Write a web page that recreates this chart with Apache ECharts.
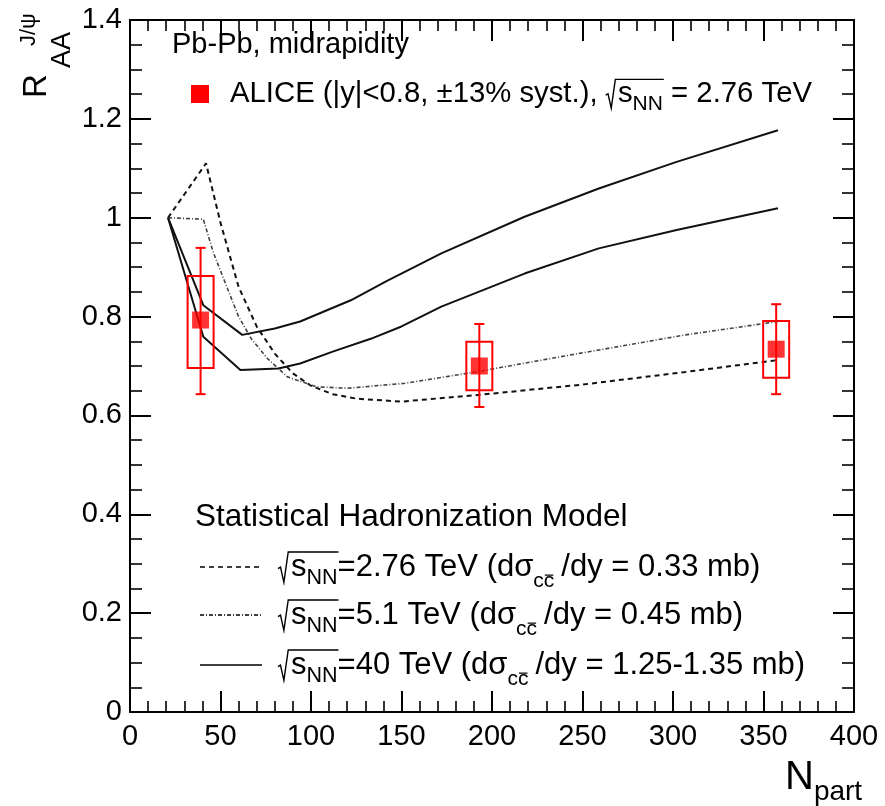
<!DOCTYPE html>
<html><head><meta charset="utf-8">
<script src="https://cdn.jsdelivr.net/npm/echarts@6/dist/echarts.min.js"></script>
<style>html,body{margin:0;padding:0;background:#fff}#c{width:885px;height:806px}</style>
</head><body><div id="c"></div><script>
// ---- data ----
const nPart276 = [21, 42, 50, 60, 70, 80, 90, 100, 112, 125, 150, 191, 249, 307, 358];
const rAA276   = [1.0, 1.11, 0.99, 0.86, 0.78, 0.725, 0.685, 0.66, 0.643, 0.634, 0.628, 0.641, 0.662, 0.688, 0.712];
const nPart51  = [21, 40.5, 46, 52, 60, 67, 76, 87, 103, 120, 152, 191, 249, 307, 358];
const rAA51    = [1.0, 0.997, 0.93, 0.874, 0.80, 0.755, 0.715, 0.678, 0.658, 0.655, 0.665, 0.688, 0.726, 0.763, 0.790];
const nPart40a = [21, 40.5, 62, 80, 94, 122, 142, 172, 218, 259, 302, 358];
const rAA40a   = [1.0, 0.823, 0.763, 0.776, 0.79, 0.833, 0.872, 0.928, 1.002, 1.059, 1.113, 1.177];
const nPart40b = [21, 40.5, 61, 82, 94, 112, 133, 150, 172, 218, 259, 302, 358];
const rAA40b   = [1.0, 0.759, 0.692, 0.695, 0.705, 0.729, 0.755, 0.78, 0.82, 0.887, 0.938, 0.975, 1.019];

const aliceNpart  = [39, 193, 357];
const aliceR      = [0.793, 0.700, 0.734];
const aliceStatLo = [0.643, 0.617, 0.643];
const aliceStatHi = [0.939, 0.785, 0.825];
const aliceSysLo  = [0.696, 0.651, 0.676];
const aliceSysHi  = [0.882, 0.749, 0.791];

const xTickLabels = ['0','50','100','150','200','250','300','350','400'];
const yTickLabels = ['0','0.2','0.4','0.6','0.8','1','1.2','1.4'];

// ---- helpers ----
const FONT = '"Liberation Sans", Arial, Helvetica, sans-serif';
const mctx = document.createElement('canvas').getContext('2d');
function tw(t, s){ mctx.font = s + 'px ' + FONT; return mctx.measureText(t).width; }
function layout(parts){
  let x = 0;
  return parts.map(p => {
    if (p.at !== undefined) x = p.at;
    x += (p.gap || 0);
    const w = p.sqrt ? 0.42 * p.s : tw(p.t, p.s);
    const r = Object.assign({}, p, {x: x, w: w});
    x += w;
    return r;
  });
}
function mathEls(x0, b, parts, color){
  color = color || '#000';
  const L = layout(parts); const els = [];
  L.forEach((p, i) => {
    if (p.sqrt){
      const s = p.s, last = L[i + p.n], end = last.x + last.w;
      const top = b - 0.84 * s;
      els.push({type:'polyline', silent:true,
        shape:{points:[[x0+p.x, b-0.30*s],[x0+p.x+0.08*s, b-0.35*s],[x0+p.x+0.19*s, b+0.14*s],[x0+p.x+0.33*s, top],[x0+end+0.03*s, top]]},
        style:{stroke:color, lineWidth:1.4, fill:null}});
    } else {
      const by = b + (p.dy || 0);
      els.push({type:'text', silent:true, x:x0+p.x, y:by - 0.35*p.s,
        style:{text:p.t, font:p.s + 'px ' + FONT, fill:color, align:'left', verticalAlign:'middle'}});
      if (p.ol){
        const ox = x0 + p.x + (p.olOff ? tw(p.olOff, p.s) : 0);
        const ow = tw(p.olText || p.t, p.s);
        const oy = by - 0.66 * p.s;
        els.push({type:'line', silent:true, shape:{x1:ox+1, y1:oy, x2:ox+ow-1, y2:oy}, style:{stroke:color, lineWidth:1.2}});
      }
    }
  });
  return els;
}
const zip = (a, b) => a.map((v, i) => [v, b[i]]);

// ---- chart ----
const chart = echarts.init(document.getElementById('c'), null, {renderer:'canvas'});
const axisLine = {show:true, onZero:false, lineStyle:{color:'#000', width:2}};
const axisTick = {show:true, inside:true, length:21, lineStyle:{color:'#000', width:2}};
const lblStyle = {fontSize:29, fontFamily:FONT, color:'#000'};

const graphics = [];
// top legend
graphics.push(...mathEls(172, 55, [{t:'Pb-Pb, midrapidity', s:29}]));
graphics.push({type:'rect', silent:true, shape:{x:191, y:85, width:18, height:18}, style:{fill:'#ff0000'}});
graphics.push(...mathEls(230, 104, [
  {t:'ALICE (|y|<0.8, \u00b113% syst.), ', s:29.3},
  {sqrt:true, s:29.3, n:2},
  {t:'s', s:29.3},
  {t:'NN', s:21, dy:8},
  {t:' = 2.76 TeV', s:29.3}
]));
// model legend
graphics.push(...mathEls(195, 528, [{t:'Statistical Hadronization Model', s:31.5}]));
const rowDefs = [
  {y:578, dash:[5,4], energy:'=2.76 TeV (d', tail:'/dy = 0.33 mb)'},
  {y:626, dash:[4,2,1,2], energy:'=5.1 TeV (d', tail:'/dy = 0.45 mb)'},
  {y:676, dash:null, energy:'=40 TeV (d', tail:'/dy = 1.25-1.35 mb)'}
];
rowDefs.forEach(r => {
  graphics.push({type:'line', silent:true, shape:{x1:200, y1:r.y-11, x2:262, y2:r.y-11},
    style:{stroke:'#000', lineWidth:1.5, lineDash:r.dash || null}});
  graphics.push(...mathEls(278, r.y, [
    {sqrt:true, s:31, n:2},
    {t:'s', s:31},
    {t:'NN', s:21.5, dy:8},
    {t:r.energy, s:31},
    {t:'\u03c3', s:31},
    {t:'cc', s:21, dy:11, ol:true, olOff:'c', olText:'c'},
    {t:r.tail, s:31, gap:7}
  ]));
});
// axis titles
graphics.push({type:'group', x:48, y:98, rotation:Math.PI/2, silent:true,
  children: mathEls(0, 0, [
    {t:'R', s:33},
    {t:'AA', s:27, dy:24, at:30},
    {t:'J/\u03c8', s:22, dy:-11, at:52}
  ])});
graphics.push(...mathEls(785, 792, [
  {t:'N', s:40},
  {t:'part', s:28, dy:10}
]));

const option = {
  animation:false,
  backgroundColor:'#fff',
  grid:{left:130, right:31, top:20, bottom:94, containLabel:false},
  xAxis:[
    {type:'value', min:0, max:400, interval:50, position:'bottom', axisLine, axisTick,
     minorTick:{show:true, splitNumber:5, length:11, lineStyle:{color:'#000', width:1.6}},
     splitLine:{show:false},
     axisLabel:Object.assign({margin:10, formatter:v => xTickLabels[Math.round(v/50)]}, lblStyle)},
    {type:'value', min:0, max:400, interval:50, position:'top', axisLine, axisTick,
     minorTick:{show:true, splitNumber:5, length:11, lineStyle:{color:'#000', width:1.6}},
     splitLine:{show:false}, axisLabel:{show:false}}
  ],
  yAxis:[
    {type:'value', min:0, max:1.4, interval:0.2, position:'left', axisLine, axisTick,
     minorTick:{show:true, splitNumber:4, length:12, lineStyle:{color:'#000', width:1.6}},
     splitLine:{show:false},
     axisLabel:Object.assign({margin:8, formatter:v => yTickLabels[Math.round(v/0.2)]}, lblStyle)},
    {type:'value', min:0, max:1.4, interval:0.2, position:'right', axisLine, axisTick,
     minorTick:{show:true, splitNumber:4, length:12, lineStyle:{color:'#000', width:1.6}},
     splitLine:{show:false}, axisLabel:{show:false}}
  ],
  series:[
    {type:'line', name:'2.76 TeV', data:zip(nPart276, rAA276), symbol:'none', z:2,
     lineStyle:{color:'#111', width:2, type:[5,4]}},
    {type:'line', name:'5.1 TeV', data:zip(nPart51, rAA51), symbol:'none', z:2,
     lineStyle:{color:'#444', width:1.6, type:[4,2,1,2]}},
    {type:'line', name:'40 TeV a', data:zip(nPart40a, rAA40a), symbol:'none', z:2,
     lineStyle:{color:'#111', width:2}},
    {type:'line', name:'40 TeV b', data:zip(nPart40b, rAA40b), symbol:'none', z:2,
     lineStyle:{color:'#111', width:2}},
    {type:'custom', name:'ALICE errors', z:4,
     data: aliceNpart.map((x, i) => [x, aliceR[i], aliceStatLo[i], aliceStatHi[i], aliceSysLo[i], aliceSysHi[i]]),
     renderItem:(params, api) => {
       const x = api.value(0);
       const pHi = api.coord([x, api.value(3)]), pLo = api.coord([x, api.value(2)]);
       const sHi = api.coord([x, api.value(5)]), sLo = api.coord([x, api.value(4)]);
       const hw = 13, cap = 5;
       const red = '#ff0000';
       return {type:'group', children:[
         {type:'rect', shape:{x:sHi[0]-hw, y:sHi[1], width:2*hw, height:sLo[1]-sHi[1]}, style:{fill:'transparent', stroke:red, lineWidth:2}},
         {type:'line', shape:{x1:pHi[0], y1:pHi[1], x2:pLo[0], y2:pLo[1]}, style:{stroke:red, lineWidth:2}},
         {type:'line', shape:{x1:pHi[0]-cap, y1:pHi[1], x2:pHi[0]+cap, y2:pHi[1]}, style:{stroke:red, lineWidth:2}},
         {type:'line', shape:{x1:pLo[0]-cap, y1:pLo[1], x2:pLo[0]+cap, y2:pLo[1]}, style:{stroke:red, lineWidth:2}}
       ]};
     }},
    {type:'scatter', name:'ALICE', data:zip(aliceNpart, aliceR), symbol:'rect', symbolSize:17, z:5,
     itemStyle:{color:'#ff0000'}}
  ],
  graphic: graphics
};
chart.setOption(option);
</script></body></html>
